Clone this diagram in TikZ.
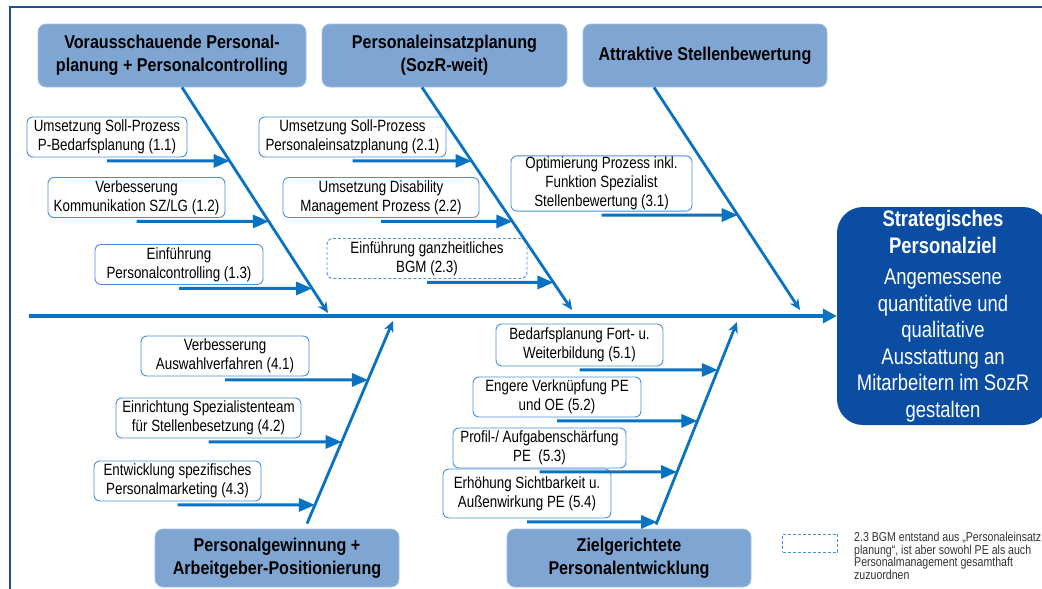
\documentclass[tikz,border=0pt]{standalone}
\usepackage{fontspec}
\setmainfont{Liberation Sans}[FakeStretch=0.82]
\newfontfamily\hdfamily{Liberation Sans}[FakeStretch=0.87]
\usetikzlibrary{arrows.meta, calc}

\definecolor{lineblue}{HTML}{0A72C2}
\definecolor{itemline}{HTML}{4A90D9}
\definecolor{hdfill}{HTML}{7FA6D3}
\definecolor{hdline}{HTML}{A3BFE2}
\definecolor{goalfill}{HTML}{0A4DA3}
\definecolor{framecol}{HTML}{1F50A0}

\begin{document}
\begin{tikzpicture}[
    x=1pt, y=-1pt,
    hdbox/.style={rectangle, rounded corners=8pt, fill=hdfill, draw=hdline, line width=0.8pt,
      align=center, inner sep=0pt, minimum width=244, minimum height=63,
      font=\hdfamily\bfseries\fontsize{18.5}{23}\selectfont},
    itembox/.style={rectangle, rounded corners=6pt, fill=white, draw=itemline, line width=0.9pt,
      align=center, inner xsep=3pt, inner ysep=1pt, minimum height=40,
      font=\fontsize{16.3}{19}\selectfont},
    goalbox/.style={rectangle, rounded corners=26pt, fill=goalfill, text=white, align=center,
      inner sep=0pt, minimum width=212, minimum height=218,
      font=\fontsize{22.5}{26.5}\selectfont},
    bone/.style={draw=lineblue, line width=2.8pt, -{Stealth[length=11pt,width=10pt]}},
    feed/.style={draw=lineblue, line width=3pt, -{Triangle[length=16pt,width=13pt]}},
    spine/.style={draw=lineblue, line width=4.5pt, -{Triangle[length=14pt,width=14pt]}}
    ]
    \useasboundingbox (0,0) rectangle (1042,589);

    % Frame
    \draw[framecol, line width=2pt] (10,589) -- (10,7) -- (1042,7);

    % Headers
    \node[hdbox, minimum width=268] (hdA) at (172,55.5) {Vorausschauende Personal-\\planung + Personalcontrolling};
    \node[hdbox, minimum width=245] (hdB) at (444.5,55.5) {Personaleinsatzplanung\\(SozR-weit)};
    \node[hdbox] (hdC) at (705,55.5) {Attraktive Stellenbewertung};
    \node[hdbox, minimum height=58] (hdD) at (277,558) {Personalgewinnung +\\Arbeitgeber-Positionierung};
    \node[hdbox, minimum height=58] (hdE) at (629,558) {Zielgerichtete\\Personalentwicklung};

    % Goal
    \node[goalbox] (goal) at (943,316) {\textbf{Strategisches}\\\textbf{Personalziel}\\[5pt]Angemessene\\quantitative und\\qualitative\\Ausstattung an\\Mitarbeitern im SozR\\gestalten};

    % Causes
    \node[itembox, minimum width=160] (i11) at (107,137) {Umsetzung Soll-Prozess\\P-Bedarfsplanung (1.1)};
    \node[itembox, minimum width=177] (i12) at (136.5,197.5) {Verbesserung\\Kommunikation SZ/LG (1.2)};
    \node[itembox, minimum width=168] (i13) at (179,264.5) {Einführung\\Personalcontrolling (1.3)};
    \node[itembox, minimum width=187] (i21) at (352.5,137) {Umsetzung Soll-Prozess\\Personaleinsatzplanung (2.1)};
    \node[itembox, minimum width=196] (i22) at (381,197.5) {Umsetzung Disability\\Management Prozess (2.2)};
    \node[itembox, minimum width=200, dashed, dash pattern=on 3pt off 2pt] (i23) at (427,258.5) {Einführung ganzheitliches\\BGM (2.3)};
    \node[itembox, minimum width=181, minimum height=55] (i31) at (601.5,183.5) {Optimierung Prozess inkl.\\Funktion Spezialist\\Stellenbewertung (3.1)};
    \node[itembox, minimum width=168] (i41) at (225,356) {Verbesserung\\Auswahlverfahren (4.1)};
    \node[itembox, minimum width=185] (i42) at (208.5,418) {Einrichtung Spezialistenteam\\für Stellenbesetzung (4.2)};
    \node[itembox, minimum width=167] (i43) at (177.5,481) {Entwicklung spezifisches\\Personalmarketing (4.3)};
    \node[itembox, minimum width=167, minimum height=42] (i51) at (579.5,345) {Bedarfsplanung Fort- u.\\Weiterbildung (5.1)};
    \node[itembox, minimum width=168] (i52) at (557,397) {Engere Verknüpfung PE\\und OE (5.2)};
    \node[itembox, minimum width=173] (i53) at (539.5,448) {Profil-/ Aufgabenschärfung\\PE \ (5.3)};
    \node[itembox, minimum width=168, minimum height=49] (i54) at (527,493.5) {Erhöhung Sichtbarkeit u.\\Außenwirkung PE (5.4)};

    % Legend
    \node[draw=itemline, dashed, dash pattern=on 3pt off 2pt, line width=0.9pt, minimum width=55, minimum height=18] (legbox) at (810,543) {};
    \node[anchor=north west, align=left, inner sep=0pt, text=black!80, font=\fontsize{12.9}{12.7}\selectfont] (legtxt) at (854,532) {2.3 BGM entstand aus „Personaleinsatz\\planung“, ist aber sowohl PE als auch\\Personalmanagement gesamthaft\\zuzuordnen};

    % Bones
    \coordinate (bA) at ([xshift=10pt]hdA.south);
    \coordinate (tA) at (328,313);
    \coordinate (bB) at ([xshift=-22.5pt]hdB.south);
    \coordinate (tB) at (572,310);
    \coordinate (bC) at ([xshift=-51pt]hdC.south);
    \coordinate (tC) at (800,310);
    \coordinate (bD) at ([xshift=30pt,yshift=5pt]hdD.north);
    \coordinate (tD) at (393,321);
    \coordinate (bE) at ([xshift=27pt,yshift=4pt]hdE.north);
    \coordinate (tE) at (737,322);
    \foreach \b in {A,B,C,D,E}
        \draw[bone] (b\b) -- (t\b);

    % Arrows
    \foreach \n/\b in {i11/A,i12/A,i13/A,i21/B,i22/B,i23/B,i31/C,i41/D,i42/D,i43/D,i51/E,i52/E,i53/E,i54/E}{
        \coordinate (s) at ([yshift=-3.5pt]\n.south);
        \coordinate (h) at ([xshift=50pt]s);
        \draw[feed] (s) -- (intersection of s--h and b\b--t\b);
    }

    % Spine
    \coordinate (sp) at (29,316);
    \draw[spine] (sp) -- (goal.west);
\end{tikzpicture}
\end{document}
